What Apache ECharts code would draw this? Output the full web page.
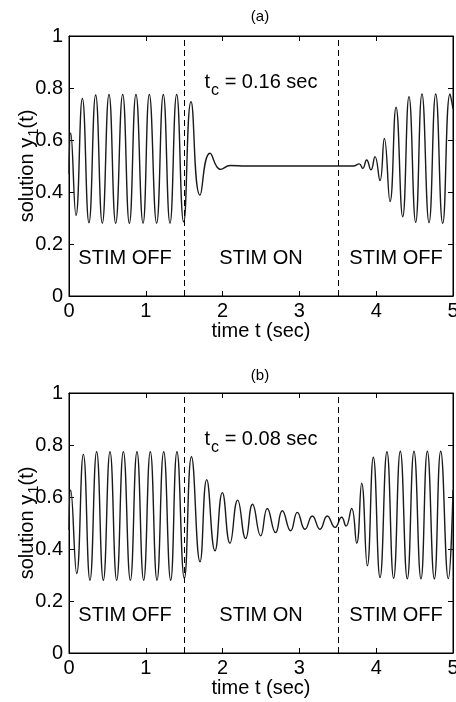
<!DOCTYPE html>
<html><head><meta charset="utf-8">
<script src="https://cdn.jsdelivr.net/npm/echarts@6/dist/echarts.min.js"></script>
<style>html,body{margin:0;padding:0;background:#fff}#c{width:456px;height:702px}</style>
</head><body><div id="c"></div>
<script>
// ---- data ----
const xTicks = [0, 1, 2, 3, 4, 5];
const yTicks = [0, 0.2, 0.4, 0.6, 0.8, 1];
const stimBounds = [1.5, 3.5];
const panelTitles = ['(a)', '(b)'];
const tcValues = ['0.16', '0.08'];
const stimLabels = ['STIM OFF', 'STIM ON', 'STIM OFF'];

const tA = [0, 0.022, 0.091, 0.174, 0.26, 0.347, 0.434, 0.521, 0.608, 0.699, 0.786, 0.872, 0.964, 1.046, 1.141, 1.228, 1.315, 1.402, 1.493, 1.589, 1.706, 1.836, 1.975, 2.1, 2.3, 3.7, 3.78, 3.824, 3.876, 3.932, 3.984, 4.049, 4.106, 4.18, 4.258, 4.345, 4.427, 4.514, 4.596, 4.688, 4.775, 4.866, 4.961, 5.0];
const yA = [0.47, 0.627, 0.31, 0.76, 0.282, 0.773, 0.28, 0.775, 0.28, 0.775, 0.28, 0.775, 0.28, 0.775, 0.28, 0.775, 0.28, 0.775, 0.285, 0.747, 0.388, 0.549, 0.487, 0.502, 0.5, 0.5, 0.508, 0.491, 0.523, 0.485, 0.536, 0.444, 0.606, 0.363, 0.726, 0.305, 0.767, 0.283, 0.777, 0.282, 0.777, 0.28, 0.777, 0.72];

const tB = [0, 0.022, 0.10, 0.187, 0.273, 0.36, 0.447, 0.534, 0.621, 0.708, 0.799, 0.885, 0.972, 1.059, 1.146, 1.233, 1.324, 1.406, 1.502, 1.595, 1.706, 1.793, 1.901, 1.997, 2.096, 2.196, 2.30, 2.39, 2.496, 2.582, 2.69, 2.777, 2.886, 2.973, 3.073, 3.168, 3.268, 3.363, 3.464, 3.55, 3.607, 3.68, 3.746, 3.811, 3.884, 3.963, 4.05, 4.140, 4.227, 4.314, 4.405, 4.492, 4.583, 4.666, 4.757, 4.84, 4.939, 5.0];
const yB = [0.473, 0.627, 0.306, 0.764, 0.28, 0.774, 0.28, 0.774, 0.28, 0.774, 0.28, 0.774, 0.28, 0.774, 0.28, 0.774, 0.28, 0.774, 0.287, 0.755, 0.351, 0.667, 0.393, 0.617, 0.422, 0.588, 0.44, 0.572, 0.451, 0.556, 0.463, 0.547, 0.47, 0.541, 0.476, 0.527, 0.476, 0.527, 0.483, 0.522, 0.488, 0.556, 0.422, 0.653, 0.335, 0.753, 0.29, 0.774, 0.287, 0.776, 0.285, 0.776, 0.285, 0.776, 0.285, 0.776, 0.286, 0.627];

// ---- chart ----
const FONT = '"Liberation Sans", Arial, Helvetica, sans-serif';
const chart = echarts.init(document.getElementById('c'), null, {renderer: 'canvas'});

const grids = [
  {left: 69, top: 36, width: 384, height: 260},
  {left: 69, top: 393, width: 384, height: 260}
];
const pairs = [tA.map((t, i) => [t, yA[i]]), tB.map((t, i) => [t, yB[i]])];

const xAxes = [], yAxes = [], series = [], graphic = [];
grids.forEach((g, k) => {
  g.show = true; g.borderColor = '#000'; g.borderWidth = 1; g.backgroundColor = 'transparent';
  g.containLabel = false; g.outerBoundsMode = 'none';
  xAxes.push({
    gridIndex: k, type: 'value', min: 0, max: 5, interval: 1, position: 'bottom',
    axisLine: {show: true, onZero: false, lineStyle: {color: '#000', width: 1}},
    axisTick: {show: true, inside: true, length: 5, lineStyle: {color: '#000'}},
    splitLine: {show: false},
    axisLabel: {show: true, color: '#000', fontSize: 20, fontFamily: FONT, margin: 5,
      formatter: v => xTicks.includes(v) ? String(v) : ''},
    name: 'time t (sec)', nameLocation: 'middle', nameGap: 25, nameMoveOverlap: false,
    nameTextStyle: {color: '#000', fontSize: 20, fontFamily: FONT}
  });
  xAxes.push({
    gridIndex: k, type: 'value', min: 0, max: 5, interval: 1, position: 'top',
    axisLine: {show: true, onZero: false, lineStyle: {color: '#000', width: 1}},
    axisTick: {show: true, inside: true, length: 5, lineStyle: {color: '#000'}},
    splitLine: {show: false}, axisLabel: {show: false}
  });
  yAxes.push({
    gridIndex: k, type: 'value', min: 0, max: 1, interval: 0.2, position: 'left',
    axisLine: {show: true, onZero: false, lineStyle: {color: '#000', width: 1}},
    axisTick: {show: true, inside: true, length: 5, lineStyle: {color: '#000'}},
    splitLine: {show: false},
    axisLabel: {show: true, color: '#000', fontSize: 20, fontFamily: FONT, margin: 6,
      formatter: v => { const m = yTicks.find(t => Math.abs(t - v) < 1e-9); return m === undefined ? '' : String(m); }},
    name: '{m|solution y}{s|1}{m|(t)}', nameLocation: 'middle', nameGap: 30, nameRotate: 90,
    nameMoveOverlap: false,
    nameTextStyle: {color: '#000', fontFamily: FONT,
      rich: {
        m: {fontSize: 20, fontFamily: FONT, color: '#000', lineHeight: 22, verticalAlign: 'top'},
        s: {fontSize: 15, fontFamily: FONT, color: '#000', lineHeight: 15, padding: [9, 0, 0, 1], verticalAlign: 'top'}
      }}
  });
  yAxes.push({
    gridIndex: k, type: 'value', min: 0, max: 1, interval: 0.2, position: 'right',
    axisLine: {show: true, onZero: false, lineStyle: {color: '#000', width: 1}},
    axisTick: {show: true, inside: true, length: 5, lineStyle: {color: '#000'}},
    splitLine: {show: false}, axisLabel: {show: false}
  });
  series.push({
    type: 'line', xAxisIndex: 2 * k, yAxisIndex: 2 * k, data: pairs[k],
    showSymbol: false, symbol: 'none', smooth: 0.5,
    lineStyle: {color: '#1a1a1a', width: 1.4}, animation: false, silent: true,
    markLine: {
      silent: true, symbol: 'none', animation: false,
      label: {show: false},
      lineStyle: {color: '#000', width: 1, type: [6, 4]},
      data: stimBounds.map(v => ({xAxis: v}))
    }
  });

  const dy = g.top - 36;
  graphic.push({type: 'text', x: 260, y: 17 + dy + (k ? 2 : 0), style: {text: panelTitles[k], font: '15px ' + FONT, fill: '#000', align: 'center', verticalAlign: 'middle'}});
  graphic.push({type: 'text', x: 261, y: 83 + dy, style: {
    text: '{m|t}{s|c}{m| = ' + tcValues[k] + ' sec}', align: 'center', verticalAlign: 'middle',
    rich: {
      m: {fontSize: 20, fontFamily: FONT, fill: '#000', lineHeight: 22, verticalAlign: 'top'},
      s: {fontSize: 16, fontFamily: FONT, fill: '#000', lineHeight: 16, padding: [11, 0, 0, 1], verticalAlign: 'top'}
    }}});
  const stimX = [125, 261, 396];
  stimLabels.forEach((s, j) => {
    graphic.push({type: 'text', x: stimX[j], y: 258 + dy, style: {text: s, font: '20px ' + FONT, fill: '#000', align: 'center', verticalAlign: 'middle'}});
  });
});

chart.setOption({
  animation: false,
  backgroundColor: '#fff',
  grid: grids,
  xAxis: xAxes,
  yAxis: yAxes,
  series: series,
  graphic: graphic
});
</script></body></html>
